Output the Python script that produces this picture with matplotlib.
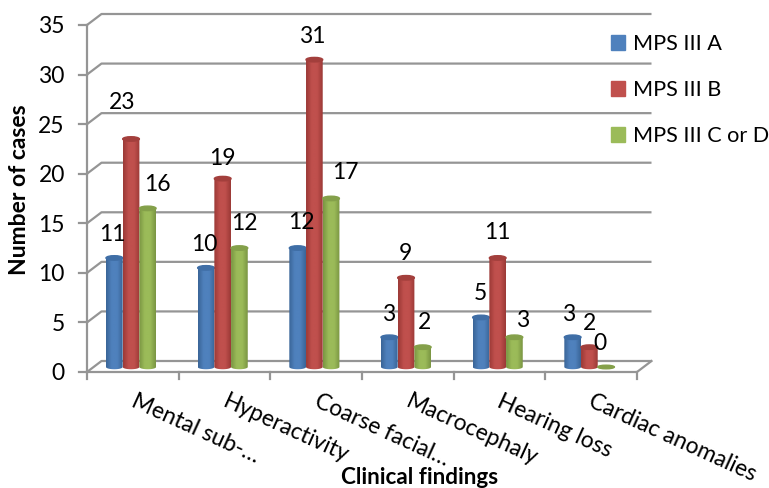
import numpy as np
import matplotlib
matplotlib.use("Agg")
import matplotlib.pyplot as plt
from matplotlib.colors import LinearSegmentedColormap
from matplotlib.patches import Ellipse, Patch, PathPatch
from matplotlib.path import Path

plt.rcParams['font.family'] = ['Lato', 'DejaVu Sans']

# Data-
categories = ["Mental sub-…", "Hyperactivity", "Coarse facial…", "Macrocephaly",
              "Hearing loss", "Cardiac anomalies"]
mps_a = [11, 10, 12, 3, 5, 3]
mps_b = [23, 19, 31, 9, 11, 2]
mps_cd = [16, 12, 17, 2, 3, 0]
series_names = ["MPS III A", "MPS III B", "MPS III C or D"]
y_ticks = [0, 5, 10, 15, 20, 25, 30, 35]

# Label nudges in pixels (dx, dy from the bar top)-
nudge_a = [(-2, 23), (-2, 23), (4, 26), (-1, 23), (-1, 24), (-4, 23)]
nudge_b = [(-9, 36), (0, 20), (-2, 23), (-1, 24), (0, 25), (0, 24)]
nudge_cd = [(10, 24), (5, 25), (14, 26), (2, 25), (8, 17), (-6, 23)]

# Colours: edge, middle, top-
colors = [("#3a6598", "#4f81bd", "#3f6ea6"),
          ("#9c3a37", "#c0504d", "#a33f3c"),
          ("#7b9643", "#9bbb59", "#84a04a")]
grid_color = "#959595"

W, H = 769, 488
fig = plt.figure(figsize=(W / 100, H / 100), dpi=100)
# plot box = front face of the 3D box
left, right, top, bottom = 87, 637, 25, 372
ax = fig.add_axes([left / W, 1 - bottom / H, (right - left) / W, (bottom - top) / H])
x_min, x_max, y_min, y_max = -0.5, 5.5, 0, 35
px_x = (x_max - x_min) / (right - left)
px_y = (y_max - y_min) / (bottom - top)
depth_x = 14.5 * px_x
depth_y = 11 * px_y

# Walls-
for v in y_ticks:
    ax.plot([x_min, x_min + depth_x, x_max + depth_x], [v, v + depth_y, v + depth_y],
            color=grid_color, lw=1.6, clip_on=False, zorder=1, solid_capstyle='butt')
    ax.plot([x_min - 8 * px_x, x_min], [v, v], color=grid_color, lw=1.6, clip_on=False, zorder=1)
ax.plot([x_min, x_min], [0, 35], color=grid_color, lw=1.6, clip_on=False, zorder=1)
ax.plot([x_min, x_max, x_max + depth_x], [0, 0, depth_y], color=grid_color, lw=1.6,
        clip_on=False, zorder=1)
for i in range(len(categories) + 1):
    xt = x_min + i
    ax.plot([xt, xt], [0, -7 * px_y], color=grid_color, lw=1.6, clip_on=False, zorder=1)

# Cylinders-
bar_w = 16.7 * px_x
base = 5.0 * px_y
cap_h = 4.5 * px_y
center_shift = -1.8 * px_x


def cylinder(xc, value, col, z):
    edge, mid, cap = col
    cmap = LinearSegmentedColormap.from_list("c", [edge, mid, mid, edge])
    x0, x1 = xc - bar_w / 2, xc + bar_w / 2
    if value == 0:
        ax.add_patch(Ellipse((xc, base), bar_w, cap_h * 0.8, color=cap, zorder=z, clip_on=False))
        return
    theta = np.linspace(np.pi, 2 * np.pi, 30)
    xs = xc + bar_w / 2 * np.cos(theta)
    ys = base + cap_h / 2 * np.sin(theta)
    verts = list(zip(xs, ys)) + [(x1, base + value), (x0, base + value), (xs[0], ys[0])]
    codes = [Path.MOVETO] + [Path.LINETO] * (len(verts) - 2) + [Path.CLOSEPOLY]
    outline = PathPatch(Path(verts, codes), transform=ax.transData, fc='none', ec='none')
    ax.add_patch(outline)
    img = ax.imshow(np.linspace(0, 1, 32).reshape(1, -1), cmap=cmap, aspect='auto',
                    extent=[x0, x1, base - cap_h, base + value], zorder=z, interpolation='bilinear')
    img.set_clip_path(outline)
    ax.add_patch(Ellipse((xc, base + value), bar_w, cap_h, color=cap, zorder=z + 0.1, clip_on=False))


series = [mps_a, mps_b, mps_cd]
nudges = [nudge_a, nudge_b, nudge_cd]
for s, (vals, nudge) in enumerate(zip(series, nudges)):
    for i, v in enumerate(vals):
        xc = i + center_shift + (s - 1) * bar_w
        cylinder(xc, v, colors[s], 3 + s)
        ax.annotate(str(v), xy=(xc, base + v), xytext=nudge[i], textcoords='offset pixels',
                    ha='center', va='center', fontsize=16.5, color='black', zorder=10,
                    annotation_clip=False)

ax.set_xlim(x_min, x_max)
ax.set_ylim(y_min, y_max)
ax.set_xticks([])
ax.set_yticks(y_ticks)
ax.tick_params(axis='y', length=0, pad=16, labelsize=16.5)
for sp in ax.spines.values():
    sp.set_visible(False)
ax.patch.set_alpha(0)

# Category labels-
for i, name in enumerate(categories):
    fig.text((133 + i * 91.4) / W, 1 - 400 / H, name, rotation=-24.5, rotation_mode='anchor',
             ha='left', va='center', fontsize=16.5, color='black')

fig.text(20 / W, 1 - 190 / H, "Number of cases", rotation=90, ha='center', va='center',
         fontsize=16.5, fontweight='bold')
fig.text(420 / W, 1 - 477 / H, "Clinical findings", ha='center', va='center',
         fontsize=16.2, fontweight='bold')

handles = [Patch(color=c[1]) for c in colors]
fig.legend(handles, series_names, loc='upper left', bbox_to_anchor=(611 / W, 1 - 34 / H),
           frameon=False, fontsize=15.6, handlelength=0.65, handleheight=0.65, handletextpad=0.35,
           labelspacing=1.2, borderpad=0, borderaxespad=0)

fig.savefig("out.png", dpi=100)
